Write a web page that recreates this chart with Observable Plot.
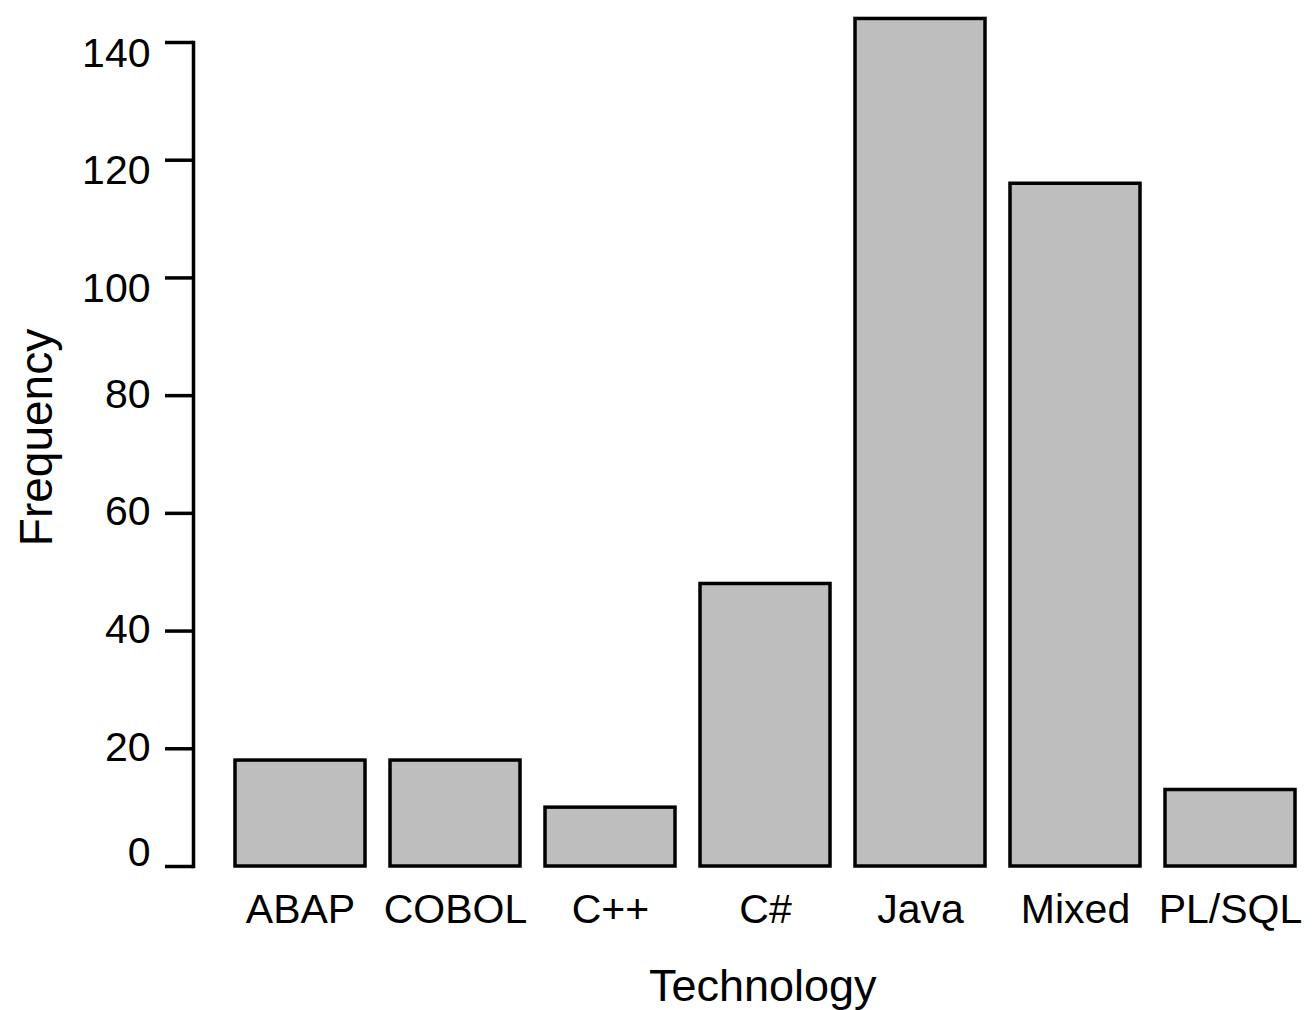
<!DOCTYPE html>
<html>
<head>
<meta charset="utf-8">
<script src="https://cdn.jsdelivr.net/npm/d3@7"></script>
<script src="https://cdn.jsdelivr.net/npm/@observablehq/plot@0.6"></script>
<style>
  html, body { margin: 0; padding: 0; background: #fff; }
  #chart svg { display: block; }
</style>
</head>
<body>
<div id="chart"></div>
<script>
const technologies = ["ABAP", "COBOL", "C++", "C#", "Java", "Mixed", "PL/SQL"];
const frequencies = [18, 18, 10, 48, 144, 116, 13];
const yTicks = [0, 20, 40, 60, 80, 100, 120, 140];
const yTicksLow = [0];
const yTicksMid = [20, 40, 60, 80];
const yTicksHigh = [100, 120, 140];
const xTitle = "Technology";
const yTitle = "Frequency";

const data = technologies.map((t, i) => ({technology: t, frequency: frequencies[i]}));

const chart = Plot.plot({
  width: 1314,
  height: 1010,
  marginTop: 42,
  marginBottom: 144,
  marginLeft: 193,
  marginRight: 6.5,
  style: {fontFamily: "'Liberation Sans', Arial, Helvetica, sans-serif", fontSize: "41px", color: "#000", background: "#fff"},
  x: {domain: technologies, range: [222.5, 1307.5], paddingInner: 25 / 155, paddingOuter: 12.5 / 155},
  y: {domain: [0, 140]},
  marks: [
    Plot.barY(data, {x: "technology", y: "frequency", fill: "#bebebe", stroke: "#000", strokeWidth: 3.5}),
    Plot.frame({anchor: "left", stroke: "#000", strokeWidth: 3.5}),
    Plot.axisY({ticks: yTicks, tickSize: 28, tickFormat: () => "", stroke: "#000", strokeWidth: 3.5, label: null}),
    Plot.axisY({ticks: yTicksLow, tickSize: 0, tickPadding: 43, fontSize: 41, dy: -14, label: null}),
    Plot.axisY({ticks: yTicksMid, tickSize: 0, tickPadding: 43, fontSize: 41, dy: -1, label: null}),
    Plot.axisY({ticks: yTicksHigh, tickSize: 0, tickPadding: 43, fontSize: 41, dy: 11, label: null}),
    Plot.axisX({tickSize: 0, tickPadding: 27, fontSize: 41, label: null}),
    Plot.text([xTitle], {text: d => d, frameAnchor: "bottom", lineAnchor: "middle", textAnchor: "middle", fontSize: 45, dx: 12, dy: 120}),
    Plot.text([yTitle], {text: d => d, frameAnchor: "left", lineAnchor: "middle", textAnchor: "middle", rotate: -90, fontSize: 46, dx: -156, dy: -17})
  ]
});
document.getElementById("chart").appendChild(chart);
</script>
</body>
</html>
